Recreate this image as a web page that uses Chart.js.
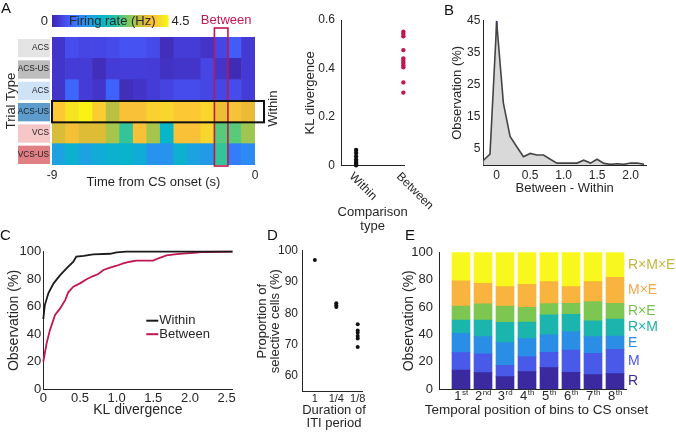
<!DOCTYPE html>
<html>
<head>
<meta charset="utf-8">
<script src="https://cdn.jsdelivr.net/npm/chart.js@4.4.1/dist/chart.umd.min.js"></script>
<style>
  html, body { margin: 0; padding: 0; background: #fff; }
  #fig { position: relative; width: 676px; height: 432px; overflow: hidden; background: #fff; }
  #fig canvas { position: absolute; left: 0; top: 0; }
</style>
</head>
<body>
<div id="fig">
  <canvas id="heat" width="676" height="432"></canvas>
  <canvas id="kl" width="676" height="432"></canvas>
  <canvas id="diff" width="676" height="432"></canvas>
  <canvas id="cdf" width="676" height="432"></canvas>
  <canvas id="iti" width="676" height="432"></canvas>
  <canvas id="bins" width="676" height="432"></canvas>
</div>
<script>
// ---- data ----

// A: firing rate (Hz) per trial row (top to bottom) and 0.6 s time bin
const heatRows = ['ACS', 'ACS-US', 'ACS', 'ACS-US', 'VCS', 'VCS-US'];
const heatBins = ['-9', '-8.4', '-7.8', '-7.2', '-6.6', '-6', '-5.4', '-4.8', '-4.2', '-3.6', '-3', '-2.4', '-1.8', '-1.2', '-0.6'];
const heatRates = [
  [0.22, 0.50, 0.42, 0.42, 0.47, 0.55, 0.55, 0.47, 0.12, 0.30, 0.30, 0.20, 0.42, 0.65, 0.28],
  [0.22, 0.30, 0.30, 0.12, 0.30, 0.33, 0.33, 0.30, 0.18, 0.22, 0.22, 0.42, 0.22, 0.08, 0.28],
  [0.22, 0.75, 0.30, 0.22, 0.72, 0.12, 0.20, 0.32, 0.40, 0.48, 0.48, 0.42, 0.42, 0.48, 0.32],
  [4.00, 4.28, 4.42, 4.05, 3.33, 3.87, 3.87, 4.10, 4.14, 4.00, 4.00, 4.14, 3.74, 3.87, 3.70],
  [3.55, 3.82, 3.60, 3.60, 3.20, 2.52, 3.87, 3.20, 2.00, 3.87, 3.87, 4.14, 2.75, 2.75, 3.15],
  [1.53, 1.85, 1.53, 1.70, 1.85, 1.90, 1.70, 1.30, 1.30, 1.85, 1.53, 1.40, 2.52, 1.00, 1.17]
];
const heatMax = 4.5;
const heatTimeTicks = [-9, 0];
const heatBetweenBin = '-1.8';
const heatWithinRow = 3;

// A: KL divergence within / between trial types
const klGroups = ['Within', 'Between'];
const klWithin = [0.065, 0.052, 0.038, 0.025, 0.015, 0.008, 0.002];
const klBetween = [0.552, 0.543, 0.533, 0.476, 0.442, 0.432, 0.423, 0.414, 0.405, 0.343, 0.301];
const klTicks = [0, 0.2, 0.4, 0.6];

// B: distribution of Between - Within
const diffX = [-0.2, -0.1, 0, 0.1, 0.2, 0.3, 0.4, 0.5, 0.6, 0.7, 0.8, 0.9, 1.0, 1.1, 1.2, 1.3, 1.4, 1.5, 1.6, 1.7, 1.8, 1.9, 2.0, 2.1, 2.2];
const diffY = [1.4, 3.4, 44.5, 19.3, 8.9, 5.7, 2.6, 3.6, 3.1, 3.1, 1.8, 0.6, 0.6, 0.6, 0.6, 1.5, 0.6, 1.8, 0.5, 0.2, 0.4, 0.2, 0.6, 0.6, 0.2];
const diffZero = 0;
const diffXTicks = [0, 0.5, 1, 1.5, 2];
const diffYTicks = [5, 15, 25, 35, 45];

// C: cumulative distributions of KL divergence
const cdfWithinX = [0, 0.02, 0.07, 0.14, 0.23, 0.32, 0.41, 0.45, 0.55, 0.68, 0.91, 1.0, 1.13, 2.58];
const cdfWithinY = [51, 61, 70, 77, 83, 88, 92.7, 96.4, 97, 98, 98.5, 99.5, 100, 100];
const cdfBetweenX = [0, 0.045, 0.09, 0.16, 0.23, 0.3, 0.34, 0.41, 0.5, 0.59, 0.68, 0.75, 0.82, 0.91, 1.0, 1.09, 1.18, 1.27, 1.5, 1.57, 1.68, 1.82, 1.95, 2.09, 2.18, 2.58];
const cdfBetweenY = [20, 33.4, 43, 54, 58.8, 65, 70.5, 74.6, 77, 80, 82.3, 83.8, 86.7, 88.4, 89.8, 91.5, 92.7, 93.5, 93.5, 95.2, 97.3, 98.3, 98.8, 99.3, 99.8, 100];
const cdfXTicks = [0, 0.5, 1, 1.5, 2, 2.5];
const cdfYTicks = [0, 20, 40, 60, 80, 100];

// D: proportion of selective cells by ITI duration
const itiGroups = ['1', '1/4', '1/8'];
const itiValues = [
  [97.0],
  [83.2, 82.6, 82.0],
  [76.5, 74.5, 73.8, 72.8, 72.0, 69.3]
];
const itiYTicks = [60, 70, 80, 90, 100];

// E: selectivity types per temporal bin (bottom to top)
const binNums = [1, 2, 3, 4, 5, 6, 7, 8];
const binSuffix = ['st', 'nd', 'rd', 'th', 'th', 'th', 'th', 'th'];
const selTypes = ['R', 'M', 'E', 'R×M', 'R×E', 'M×E', 'R×M×E'];
const selShares = [
  [14.1, 12.2, 9.2, 12.9, 15.8, 12.4, 10.7, 11.4],
  [12.7, 13.6, 8.3, 10.9, 11.2, 16.3, 15.6, 17.8],
  [14.1, 12.6, 16.6, 13.2, 12.7, 13.4, 12.1, 9.7],
  [9.7, 12.2, 14.8, 12.1, 14.6, 12.6, 11.5, 12.4],
  [10.2, 11.7, 11.9, 10.8, 8.2, 8.1, 14.1, 11.5],
  [18.3, 15.1, 14.1, 16.7, 16.1, 12.1, 14.6, 19.0],
  [20.9, 22.6, 25.1, 23.4, 21.4, 25.1, 21.4, 18.2]
];
const selYTicks = [0, 20, 40, 60, 80, 100];

// ---- styling ----
const W = 676, H = 432;
const INK = '#262626';
const RED = '#c0174f';
const SANS = '"Liberation Sans", Arial, Helvetica, sans-serif';
const rowBoxColors = ['#e4e4e4', '#bdbdbd', '#cfe3f7', '#5d9bcc', '#f7c6c6', '#e07f84'];
const selColors = ['#3b2a9f', '#4a5ae8', '#2b8ee6', '#1cb5ae', '#7cc651', '#f9b33f', '#f8f81f'];
const selTextColors = ['#3b2a9f', '#4a5ae8', '#2b8ee6', '#1cb0aa', '#76c04e', '#f0a74e', '#c6b63f'];

Chart.defaults.font.family = SANS;
Chart.defaults.font.size = 12;
Chart.defaults.color = INK;

// parula-like colour map
const PARULA = [
  [0, 62, 38, 168], [0.063, 69, 57, 212], [0.125, 71, 83, 244], [0.188, 57, 112, 254],
  [0.25, 46, 135, 247], [0.313, 35, 154, 231], [0.375, 18, 171, 217], [0.438, 6, 182, 200],
  [0.5, 20, 190, 178], [0.563, 53, 196, 152], [0.625, 100, 202, 116], [0.688, 150, 200, 85],
  [0.75, 193, 191, 62], [0.813, 230, 187, 52], [0.875, 254, 195, 56], [0.938, 245, 222, 40],
  [1, 249, 251, 14]
];
function parula(t) {
  t = Math.max(0, Math.min(1, t));
  for (let i = 1; i < PARULA.length; i++) {
    const a = PARULA[i - 1], b = PARULA[i];
    if (t <= b[0]) {
      const f = (t - a[0]) / (b[0] - a[0]);
      const c = [1, 2, 3].map(k => Math.round(a[k] + f * (b[k] - a[k])));
      return `rgb(${c[0]},${c[1]},${c[2]})`;
    }
  }
  return 'rgb(249,251,14)';
}

// place the plot area at fixed pixels: l,t,r,b of the area, yw / xh = axis box sizes
function place(l, t, r, b, yw, xh) {
  return { padding: { left: l - yw, top: t, right: W - r, bottom: H - b - xh } };
}

function axis(o) {
  const ax = {
    type: o.type || 'linear',
    position: o.pos,
    offset: false,
    grid: { display: false, drawTicks: false },
    border: { display: o.line !== false, color: INK, width: 1 },
    ticks: { display: !!o.ticks, padding: o.pad ?? 3, font: { size: o.fs ?? 12 }, color: INK },
    title: { display: !!o.title, text: o.title || '', font: { size: o.tfs ?? 13, lineHeight: o.tlh ?? 1.2 },
             color: INK, padding: o.tpad ?? 4 },
    afterFit: s => { if (o.pos === 'left') s.width = o.size; else s.height = o.size; }
  };
  if (o.min !== undefined) ax.min = o.min;
  if (o.max !== undefined) ax.max = o.max;
  if (o.stacked) ax.stacked = true;
  if (o.ticks) ax.afterBuildTicks = s => { s.ticks = o.ticks.map(v => ({ value: v })); };
  if (o.cb) ax.ticks.callback = o.cb;
  return ax;
}

function letter(ctx, txt, x, y) {
  ctx.save();
  ctx.font = '15px ' + SANS;
  ctx.fillStyle = '#111';
  ctx.textAlign = 'left';
  ctx.textBaseline = 'alphabetic';
  ctx.fillText(txt, x, y);
  ctx.restore();
}

// axis caption below a plot, without the width squeeze Chart.js applies to titles
function caption(ctx, lines, cx, y0, size, step) {
  ctx.save();
  ctx.font = size + 'px ' + SANS;
  ctx.fillStyle = INK;
  ctx.textAlign = 'center';
  ctx.textBaseline = 'middle';
  lines.forEach((t, i) => ctx.fillText(t, cx, y0 + i * step));
  ctx.restore();
}

const base = { responsive: false, animation: false, devicePixelRatio: 1,
  plugins: { legend: { display: false }, tooltip: { enabled: false } } };

// ---- A: heat map ----
const heatSets = heatRows.map((name, i) => i).reverse().map(i => ({
  label: heatRows[i],
  data: heatRates[i].map(() => 1),
  backgroundColor: heatRates[i].map(v => parula(v / heatMax)),
  borderWidth: 0,
  barPercentage: 1,
  categoryPercentage: 1
}));

const heatDecor = {
  id: 'heatDecor',
  afterDraw(chart) {
    const { ctx, chartArea: a, scales: { x, y } } = chart;
    const n = heatRows.length;
    ctx.save();
    // trial type boxes
    heatRows.forEach((name, i) => {
      const top = y.getPixelForValue(n - i), bot = y.getPixelForValue(n - i - 1);
      ctx.fillStyle = rowBoxColors[i];
      ctx.fillRect(18, top + 2, a.left - 2 - 18, bot - top - 3);
      ctx.fillStyle = '#222';
      ctx.font = '8.3px ' + SANS;
      ctx.textAlign = 'right';
      ctx.textBaseline = 'middle';
      ctx.fillText(name, a.left - 3, (top + bot) / 2);
    });
    // colour bar
    const cbL = a.left, cbW = 116.5, cbT = 15, cbH = 12;
    const g = ctx.createLinearGradient(cbL, 0, cbL + cbW, 0);
    PARULA.forEach(p => g.addColorStop(p[0], `rgb(${p[1]},${p[2]},${p[3]})`));
    ctx.fillStyle = g;
    ctx.fillRect(cbL, cbT, cbW, cbH);
    ctx.font = '13px ' + SANS;
    ctx.textBaseline = 'middle';
    ctx.fillStyle = INK;
    ctx.textAlign = 'right';
    ctx.fillText('0', cbL - 4, cbT + cbH / 2);
    ctx.textAlign = 'left';
    ctx.fillText(String(heatMax), cbL + cbW + 3, cbT + cbH / 2);
    ctx.textAlign = 'center';
    ctx.fillStyle = '#2a2a2a';
    ctx.fillText('Firing rate (Hz)', cbL + cbW / 2 + 2, cbT + cbH / 2 + 0.5);
    // between box
    const ci = heatBins.indexOf(heatBetweenBin);
    const half = (x.getPixelForValue(1) - x.getPixelForValue(0)) / 2;
    const cx = x.getPixelForValue(ci);
    ctx.strokeStyle = RED;
    ctx.lineWidth = 1.6;
    ctx.strokeRect(cx - half, a.top - 9, half * 2, a.bottom - a.top + 10);
    ctx.fillStyle = RED;
    ctx.textAlign = 'center';
    ctx.fillText('Between', cx + 5, 20.5);
    // within box
    const wt = y.getPixelForValue(n - heatWithinRow), wb = y.getPixelForValue(n - heatWithinRow - 1);
    ctx.strokeStyle = '#111';
    ctx.lineWidth = 2;
    ctx.strokeRect(a.left, wt, a.right + 9 - a.left, wb - wt);
    ctx.save();
    ctx.translate(a.right + 18, (wt + wb) / 2 - 3);
    ctx.rotate(-Math.PI / 2);
    ctx.fillStyle = INK;
    ctx.textAlign = 'center';
    ctx.fillText('Within', 0, 0);
    ctx.restore();
    ctx.restore();
    letter(ctx, 'A', 1, 13);
  }
};

new Chart(document.getElementById('heat'), {
  type: 'bar',
  data: { labels: heatBins, datasets: heatSets },
  options: {
    ...base,
    layout: place(52, 37, 255, 165, 52, 29),
    scales: {
      x: { type: 'category', stacked: true, display: false },
      xt: axis({ pos: 'bottom', min: -9, max: 0, ticks: heatTimeTicks, size: 29, line: false,
                 title: 'Time from CS onset (s)', tpad: { top: 0, bottom: 4 } }),
      y: axis({ pos: 'left', min: 0, max: heatRows.length, stacked: true, size: 52, line: false,
                title: 'Trial Type' })
    }
  },
  plugins: [heatDecor]
});

// ---- A: KL divergence scatter ----
const klDecor = {
  id: 'klDecor',
  afterDraw(chart) {
    const { ctx, chartArea: a, scales: { x } } = chart;
    ctx.save();
    ctx.font = '12px ' + SANS;
    ctx.fillStyle = INK;
    ctx.textAlign = 'left';
    ctx.textBaseline = 'middle';
    klGroups.forEach((g, i) => {
      const px = x.getPixelForValue(i + 1);
      ctx.save();
      ctx.translate(px - 5, a.bottom + 9);
      ctx.rotate(Math.PI / 4);
      ctx.fillText(g, 0, 0);
      ctx.restore();
    });
    ctx.restore();
    caption(ctx, ['Comparison', 'type'], (a.left + a.right) / 2, a.bottom + 46.5, 13, 14);
  }
};

new Chart(document.getElementById('kl'), {
  type: 'scatter',
  data: {
    datasets: [
      { data: klWithin.map(v => ({ x: 1, y: v })), backgroundColor: '#111', borderWidth: 0, pointRadius: 2.2, clip: false },
      { data: klBetween.map(v => ({ x: 2, y: v })), backgroundColor: RED, borderWidth: 0, pointRadius: 2.2, clip: false }
    ]
  },
  options: {
    ...base,
    layout: place(341, 20, 404.3, 165.7, 42, 72),
    scales: {
      x: axis({ pos: 'bottom', min: 0.68, max: 2.02, size: 72 }),
      y: axis({ pos: 'left', min: 0, max: 0.6, ticks: klTicks, size: 42, pad: 6, title: 'KL divergence' })
    }
  },
  plugins: [klDecor]
});

// ---- B: Between - Within distribution ----
new Chart(document.getElementById('diff'), {
  type: 'scatter',
  data: {
    datasets: [
      { data: diffX.map((v, i) => ({ x: v, y: diffY[i] })), showLine: true, fill: 'origin',
        backgroundColor: '#d9d9d9', borderColor: '#444', borderWidth: 1.6, pointRadius: 0, tension: 0 },
      { data: [{ x: diffZero, y: 0 }, { x: diffZero, y: 45 }], showLine: true,
        borderColor: '#22229a', borderWidth: 1.8, pointRadius: 0 }
    ]
  },
  options: {
    ...base,
    layout: place(483.3, 20.7, 646, 165, 38, 35),
    scales: {
      x: axis({ pos: 'bottom', min: -0.2, max: 2.23, ticks: diffXTicks, size: 35, title: 'Between - Within' }),
      y: axis({ pos: 'left', min: 0, max: 45, ticks: diffYTicks, size: 38, title: 'Observation (%)' })
    }
  },
  plugins: [{ id: 'bLetter', afterDraw(chart) { letter(chart.ctx, 'B', 444, 15); } }]
});

// ---- C: cumulative distributions ----
const cdfSets = [
  { label: 'Within', data: cdfWithinX.map((v, i) => ({ x: v, y: cdfWithinY[i] })), borderColor: '#1a1a1a' },
  { label: 'Between', data: cdfBetweenX.map((v, i) => ({ x: v, y: cdfBetweenY[i] })), borderColor: RED }
].map(d => ({ ...d, showLine: true, borderWidth: 1.8, pointRadius: 0, tension: 0, clip: false }));

new Chart(document.getElementById('cdf'), {
  type: 'scatter',
  data: { datasets: cdfSets },
  options: {
    ...base,
    layout: place(43.3, 251.7, 232.5, 389.3, 42, 33),
    scales: {
      x: axis({ pos: 'bottom', min: 0, max: 2.58, ticks: cdfXTicks, size: 33, pad: 1, fs: 13, tfs: 14,
                title: 'KL divergence' }),
      y: axis({ pos: 'left', min: 0, max: 100, ticks: cdfYTicks, size: 42, pad: 2, fs: 13, tfs: 14,
                title: 'Observation (%)' })
    }
  },
  plugins: [{
    id: 'cdfLegend',
    afterDraw(chart) {
      const { ctx, chartArea: a } = chart;
      ctx.save();
      ctx.font = '13px ' + SANS;
      ctx.textAlign = 'left';
      ctx.textBaseline = 'middle';
      chart.data.datasets.forEach((d, i) => {
        const lx = a.left + 103, ly = a.top + 69 + i * 13.5;
        ctx.strokeStyle = d.borderColor;
        ctx.lineWidth = 2;
        ctx.beginPath(); ctx.moveTo(lx, ly); ctx.lineTo(lx + 12, ly); ctx.stroke();
        ctx.fillStyle = INK;
        ctx.fillText(d.label, lx + 13, ly);
      });
      ctx.restore();
      letter(ctx, 'C', 0, 240);
    }
  }]
});

// ---- D: ITI duration ----
new Chart(document.getElementById('iti'), {
  type: 'scatter',
  data: {
    datasets: [{
      data: itiValues.flatMap((vals, i) => vals.map(v => ({ x: i + 1, y: v }))),
      backgroundColor: '#111', borderWidth: 0, pointRadius: 2, clip: false
    }]
  },
  options: {
    ...base,
    layout: place(302, 250.7, 362, 391.7, 50, 38),
    scales: {
      x: axis({ pos: 'bottom', min: 0.4, max: 3.2, ticks: [1, 2, 3], size: 38, pad: 1, fs: 11,
                cb: v => itiGroups[v - 1] }),
      y: axis({ pos: 'left', min: 55, max: 100, ticks: itiYTicks, size: 50, pad: 4, tlh: 1.0,
                title: ['Proportion of', 'selective cells (%)'] })
    }
  },
  plugins: [{
    id: 'dDecor',
    afterDraw(chart) {
      const { ctx, chartArea: a } = chart;
      caption(ctx, ['Duration of', 'ITI period'], (a.left + a.right) / 2 + 2, a.bottom + 18.5, 13, 13);
      letter(ctx, 'D', 267, 240);
    }
  }]
});

// ---- E: stacked selectivity types ----
const selSets = selTypes.map((name, k) => ({
  label: name,
  data: binNums.map((n, i) => ({ x: n, y: selShares[k][i] })),
  backgroundColor: selColors[k],
  borderWidth: 0,
  barThickness: 18
}));

new Chart(document.getElementById('bins'), {
  type: 'bar',
  data: { datasets: selSets },
  options: {
    ...base,
    layout: place(439, 252.3, 626, 389.3, 42, 33),
    scales: {
      x: axis({ pos: 'bottom', min: 0, max: 8.5, stacked: true, size: 33 }),
      y: axis({ pos: 'left', min: 0, max: 100, stacked: true, ticks: selYTicks, size: 42, pad: 6, fs: 13, tfs: 14,
                title: 'Observation (%)' })
    }
  },
  plugins: [{
    id: 'binDecor',
    afterDraw(chart) {
      const { ctx, chartArea: a, scales: { x, y } } = chart;
      ctx.save();
      ctx.fillStyle = INK;
      ctx.textAlign = 'left';
      ctx.textBaseline = 'alphabetic';
      binNums.forEach((n, i) => {
        const px = x.getPixelForValue(n);
        ctx.font = '13px ' + SANS;
        const w1 = ctx.measureText(String(n)).width;
        ctx.font = '8px ' + SANS;
        const w2 = ctx.measureText(binSuffix[i]).width;
        const x0 = px - (w1 + w2) / 2;
        ctx.font = '13px ' + SANS;
        ctx.fillText(String(n), x0, a.bottom + 11);
        ctx.font = '8px ' + SANS;
        ctx.fillText(binSuffix[i], x0 + w1 + 0.5, a.bottom + 6);
      });
      const lastBin = selShares.map(s => s[s.length - 1]);
      let acc = 0;
      ctx.font = '14px ' + SANS;
      ctx.textBaseline = 'middle';
      selTypes.forEach((name, k) => {
        const cy = y.getPixelForValue(acc + lastBin[k] / 2);
        acc += lastBin[k];
        ctx.fillStyle = selTextColors[k];
        ctx.fillText(name, a.right + 2, cy);
      });
      ctx.restore();
      caption(ctx, ['Temporal position of bins to CS onset'], (a.left + a.right) / 2 + 4, a.bottom + 21, 13.5, 0);
      letter(ctx, 'E', 405, 240);
    }
  }]
});
</script>
</body>
</html>
